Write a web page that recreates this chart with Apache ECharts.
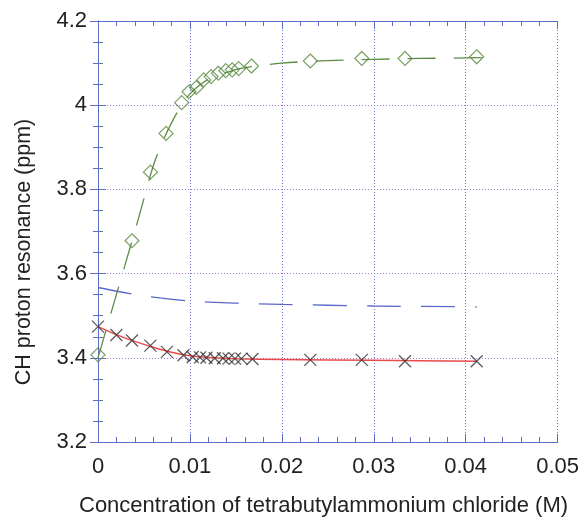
<!DOCTYPE html>
<html>
<head>
<meta charset="utf-8">
<script src="https://cdn.jsdelivr.net/npm/echarts@6/dist/echarts.min.js"></script>
<style>html,body{margin:0;padding:0;background:#fff;}#c{width:582px;height:517px;}</style>
</head>
<body>
<div id="c"></div>
<script>
// Measured data (concentration in M, shift in ppm)
var crossX = [0, 0.0020, 0.0037, 0.0057, 0.0075, 0.0093, 0.0103, 0.0111, 0.0118, 0.0127, 0.0136, 0.0142, 0.0149, 0.0156, 0.0168, 0.0231, 0.0287, 0.0334, 0.0412];
var crossY = [3.474, 3.454, 3.441, 3.429, 3.414, 3.406, 3.402, 3.401, 3.400, 3.399, 3.399, 3.398, 3.398, 3.398, 3.397, 3.395, 3.395, 3.392, 3.392];

var diamondX = [0, 0.0037, 0.0057, 0.0074, 0.0091, 0.0099, 0.0107, 0.0115, 0.0123, 0.0131, 0.0139, 0.0146, 0.0153, 0.0167, 0.0231, 0.0287, 0.0334, 0.0412];
var diamondY = [3.407, 3.678, 3.841, 3.933, 4.006, 4.032, 4.042, 4.060, 4.068, 4.076, 4.082, 4.084, 4.087, 4.093, 4.105, 4.111, 4.111, 4.115];

var redFitX = [0, 0.002, 0.004, 0.006, 0.008, 0.010, 0.012, 0.015, 0.020, 0.030, 0.0412];
var redFitY = [3.474, 3.455, 3.439, 3.425, 3.413, 3.405, 3.401, 3.398, 3.396, 3.394, 3.392];

var blueFitX = [0, 0.005, 0.010, 0.015, 0.020, 0.030, 0.0412];
var blueFitY = [3.567, 3.547, 3.535, 3.530, 3.527, 3.523, 3.521];

var greenFitX = [0, 0.001, 0.002, 0.003, 0.004, 0.005, 0.006, 0.007, 0.008, 0.009, 0.010, 0.011, 0.012, 0.014, 0.016, 0.020, 0.025, 0.030, 0.035, 0.0425];
var greenFitY = [3.400, 3.475, 3.550, 3.625, 3.700, 3.778, 3.855, 3.912, 3.958, 3.997, 4.027, 4.047, 4.061, 4.078, 4.089, 4.100, 4.106, 4.109, 4.111, 4.113];

var xTicks = [0, 0.01, 0.02, 0.03, 0.04, 0.05];
var yTicks = [3.2, 3.4, 3.6, 3.8, 4, 4.2];

function pairs(xs, ys) { return xs.map(function (x, i) { return [x, ys[i]]; }); }

var FONT = 'Liberation Sans';
var axisColor = '#5b6fc4';
var chart = echarts.init(document.getElementById('c'), null, {renderer: 'canvas'});
function xAx(pos, showLabel, showSplit) {
  return {
    type: 'value', min: xTicks[0], max: xTicks[xTicks.length - 1], interval: 0.01,
    position: pos,
    axisLine: {show: true, lineStyle: {color: axisColor, width: 1}},
    axisTick: {show: true, inside: true, length: 8, lineStyle: {color: axisColor}},
    minorTick: {show: true, splitNumber: 5, length: 5, lineStyle: {color: axisColor}},
    axisLabel: {show: showLabel, color: '#222', fontFamily: FONT, fontSize: 22, margin: 14,
      formatter: function (v) { return String(+v.toFixed(3)); }},
    splitLine: {show: showSplit, lineStyle: {color: '#6a78d8', type: [1, 2], width: 1}}
  };
}
function yAx(pos, showLabel, showSplit) {
  return {
    type: 'value', min: yTicks[0], max: yTicks[yTicks.length - 1], interval: 0.2,
    position: pos,
    axisLine: {show: true, lineStyle: {color: axisColor, width: 1}},
    axisTick: {show: true, inside: true, length: 8, lineStyle: {color: axisColor}},
    minorTick: {show: true, splitNumber: 4, length: 5, lineStyle: {color: axisColor}},
    axisLabel: {show: showLabel, color: '#222', fontFamily: FONT, fontSize: 22, margin: 11,
      formatter: function (v) { return String(+v.toFixed(1)); }},
    splitLine: {show: showSplit, lineStyle: {color: '#a878cc', type: [1, 2], width: 1}}
  };
}
chart.setOption({
  animation: false,
  backgroundColor: '#ffffff',
  grid: {left: 98, right: 24, top: 21, bottom: 75, containLabel: false},
  xAxis: [xAx('bottom', true, true), xAx('top', false, false)],
  yAxis: [yAx('left', true, true), yAx('right', false, false)],
  graphic: [{
    type: 'text', left: 79, top: 495,
    style: {text: 'Concentration of tetrabutylammonium chloride (M)', font: '22px "Liberation Sans"', fill: '#222'}
  }, {
    type: 'text', x: 24, y: 252, rotation: Math.PI / 2,
    style: {text: 'CH proton resonance (ppm)', font: '21.5px "Liberation Sans"', fill: '#222', align: 'center', verticalAlign: 'middle'}
  }],
  series: [{
    type: 'line', data: pairs(redFitX, redFitY), showSymbol: false, smooth: 0.3,
    lineStyle: {color: '#e84a4a', width: 1.5}, z: 2
  }, {
    type: 'line', data: pairs(blueFitX, blueFitY), showSymbol: false, smooth: 0.3,
    lineStyle: {color: '#5a68c8', width: 1.3, type: [34, 20]}, z: 2
  }, {
    type: 'line', data: pairs(greenFitX, greenFitY), showSymbol: false, smooth: 0.3,
    lineStyle: {color: '#5e8c44', width: 1.3, type: [28, 18]}, z: 2
  }, {
    type: 'scatter', data: pairs(crossX, crossY),
    symbol: 'path://M0,0L10,10M10,0L0,10', symbolSize: 12,
    itemStyle: {color: 'none', borderColor: '#333', borderWidth: 1.3}, z: 3
  }, {
    type: 'scatter', data: pairs(diamondX, diamondY),
    symbol: 'path://M0,-10L10,0L0,10L-10,0Z', symbolSize: 14,
    itemStyle: {color: 'rgba(255,255,255,0)', borderColor: '#5a8a40', borderWidth: 1.2}, z: 3
  }]
});
</script>
</body>
</html>
